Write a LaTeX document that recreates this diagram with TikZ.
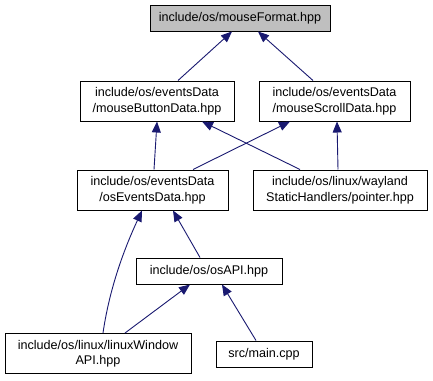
\documentclass[tikz,border=0pt]{standalone}
\usepackage{fontspec}
\setmainfont{Liberation Sans}
\usetikzlibrary{arrows.meta}
\definecolor{edgeblue}{HTML}{191970}
\definecolor{rootgray}{HTML}{BFBFBF}
\begin{document}
\begin{tikzpicture}[x=1pt,y=-1pt,
  filebox/.style={draw=black,line width=1pt,fill=white,minimum height=40pt,
    inner sep=0pt,align=center,font=\fontsize{12.6}{15.5}\selectfont},
  rootbox/.style={filebox,fill=rootgray,minimum height=26pt},
  onebox/.style={filebox,minimum height=26pt},
  dep/.style={draw=edgeblue,line width=0.9pt,-{Triangle[length=11pt,width=9pt]}}]
\useasboundingbox (0,0) rectangle (433,380);

\node[rootbox,minimum width=180pt] (mf)  at (240,18)    {include/os/mouseFormat.hpp};
\node[filebox,minimum width=154pt] (mbd) at (157,101)   {include/os/eventsData\\/mouseButtonData.hpp};
\node[filebox,minimum width=151pt] (msd) at (334.5,101) {include/os/eventsData\\/mouseScrollData.hpp};
\node[filebox,minimum width=151pt] (oed) at (152.5,190) {include/os/eventsData\\/osEventsData.hpp};
\node[filebox,minimum width=174pt] (ptr) at (340,190)   {include/os/linux/wayland\\StaticHandlers/pointer.hpp};
\node[onebox,minimum width=146pt]  (api) at (209,271)   {include/os/osAPI.hpp};
\node[filebox,minimum width=186pt] (lwa) at (98,353.5)  {include/os/linux/linuxWindow\\API.hpp};
\node[onebox,minimum width=96pt]   (main) at (264,354)  {src/main.cpp};

\draw[dep] ([xshift=21pt]mbd.north)   -- ([xshift=-8pt]mf.south);
\draw[dep] ([xshift=-21.5pt]msd.north) -- ([xshift=18pt]mf.south);
\draw[dep] ([xshift=1.5pt]oed.north)  -- (mbd.south);
\draw[dep] ([xshift=40.5pt]oed.north) -- ([xshift=-44.5pt]msd.south);
\draw[dep] ([xshift=-40pt]ptr.north)  -- ([xshift=45pt]mbd.south);
\draw[dep] ([xshift=-2pt]ptr.north)   -- ([xshift=2.5pt]msd.south);
\draw[dep] ([xshift=-9pt]api.north)   -- ([xshift=20.5pt]oed.south);
\draw[dep] ([xshift=5pt]lwa.north) .. controls (110,285) and (126,245) .. ([xshift=-10.5pt]oed.south);
\draw[dep] ([xshift=27pt]lwa.north)   -- ([xshift=-19pt]api.south);
\draw[dep] ([xshift=-8pt]main.north)  -- ([xshift=13pt]api.south);
\end{tikzpicture}
\end{document}
